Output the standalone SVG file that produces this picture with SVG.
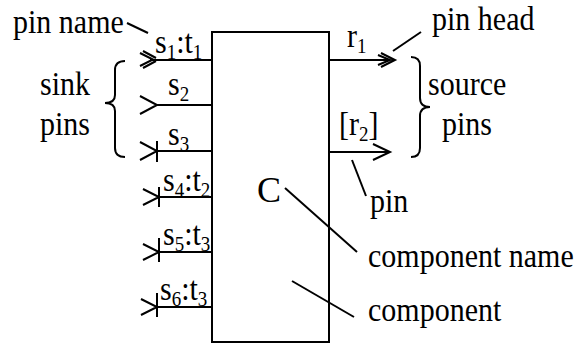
<svg xmlns="http://www.w3.org/2000/svg" width="575" height="343" viewBox="0 0 575 343">
<style>
text{font-family:'Liberation Serif','Times New Roman',serif;font-size:30px;fill:#000}
.sub{font-size:19px}
.ln{stroke:#000;stroke-width:2;fill:none}
</style>
<rect width="575" height="343" fill="#fff"/>
<g id="component">
<rect x="212" y="32" width="117" height="310" class="ln"/>
<text x="257" y="202" style="font-size:36px">C</text>
</g>
<g id="connectors">
<line x1="150" y1="60" x2="212" y2="60" class="ln"/>
<path d="M140,53 L153,59.5 L140,66 M143,51 L156,58 M143,68 L156,61" class="ln"/>
<line x1="156" y1="105" x2="212" y2="105" class="ln"/>
<path d="M140,96 L157,105 L140,114" class="ln"/>
<line x1="157" y1="151" x2="212" y2="151" class="ln"/>
<path d="M140,142 L157,151 L140,160 M157,141 L157,162" class="ln"/>
<line x1="159" y1="197" x2="212" y2="197" class="ln"/>
<path d="M143,189 L159,197 L143,205 M159,187 L159,207" class="ln"/>
<line x1="159" y1="252" x2="212" y2="252" class="ln"/>
<path d="M143,244 L159,252 L143,260 M159,238 L159,262" class="ln"/>
<line x1="157" y1="307" x2="212" y2="307" class="ln"/>
<path d="M141,299 L157,307 L141,315 M157,293 L157,317" class="ln"/>
<line x1="329" y1="60" x2="390" y2="60" class="ln"/>
<path d="M381,53 L395,60 L381,67 M378,55 L390,60 L378,65" class="ln"/>
<line x1="329" y1="152" x2="389" y2="152" class="ln"/>
<path d="M373,144 L390,152 L373,160" class="ln"/>
<path d="M125,61 Q115,61 115,70 L115,95 Q115,103 105,103 Q115,103 115,111 L115,148 Q115,157 125,157" class="ln"/>
<path d="M411,57 Q420,57 420,66 L420,98 Q420,107 430,107 Q420,107 420,116 L420,148 Q420,157 411,157" class="ln"/>
<line x1="127" y1="23" x2="148" y2="33" class="ln"/>
<line x1="393" y1="51" x2="421" y2="32" class="ln"/>
<line x1="352" y1="160" x2="366" y2="196" class="ln"/>
<line x1="285" y1="188" x2="357" y2="252" class="ln"/>
<line x1="292" y1="281" x2="354" y2="317" class="ln"/>
</g>
<g id="labels">
<text transform="translate(13,33) scale(1,1.12)">pin name</text>
<text transform="translate(40,95) scale(1,1.12)">sink</text>
<text transform="translate(40,135) scale(1,1.12)">pins</text>
<text transform="translate(155,53) scale(1,1.12)">s<tspan class="sub" dy="5">1</tspan><tspan dy="-5">:t</tspan><tspan class="sub" dy="5">1</tspan></text>
<text transform="translate(168,95) scale(1,1.12)">s<tspan class="sub" dy="5">2</tspan></text>
<text transform="translate(168,145) scale(1,1.12)">s<tspan class="sub" dy="5">3</tspan></text>
<text transform="translate(163,191) scale(1,1.12)">s<tspan class="sub" dy="5">4</tspan><tspan dy="-5">:t</tspan><tspan class="sub" dy="5">2</tspan></text>
<text transform="translate(163,245) scale(1,1.12)">s<tspan class="sub" dy="5">5</tspan><tspan dy="-5">:t</tspan><tspan class="sub" dy="5">3</tspan></text>
<text transform="translate(160,300) scale(1,1.12)">s<tspan class="sub" dy="5">6</tspan><tspan dy="-5">:t</tspan><tspan class="sub" dy="5">3</tspan></text>
<text transform="translate(347,47) scale(1,1.12)">r<tspan class="sub" dy="5">1</tspan></text>
<text transform="translate(339,135) scale(1,1.12)">[r<tspan class="sub" dy="5">2</tspan><tspan dy="-5">]</tspan></text>
<text transform="translate(432,30) scale(1,1.12)">pin head</text>
<text transform="translate(428,95) scale(1,1.12)">source</text>
<text transform="translate(442,135) scale(1,1.12)">pins</text>
<text transform="translate(370,212) scale(1,1.12)">pin</text>
<text transform="translate(368,267) scale(1,1.12)">component name</text>
<text transform="translate(368,321) scale(1,1.12)">component</text>
</g>
</svg>
